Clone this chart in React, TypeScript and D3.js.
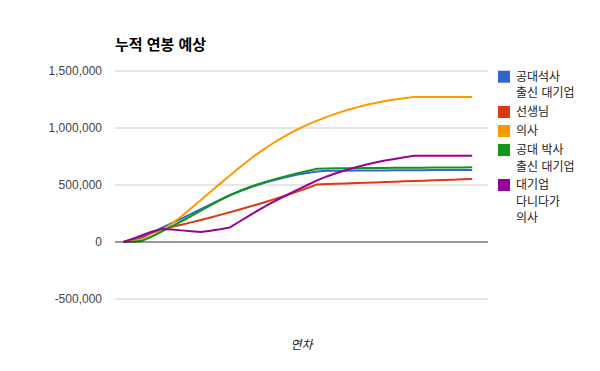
import React from "react";
import * as d3 from "d3";

const years: number[] = d3.range(0, 37);

const seriesNames: string[][] = [
  ["공대석사", "출신 대기업"],
  ["선생님"],
  ["의사"],
  ["공대 박사", "출신 대기업"],
  ["대기업", "다니다가", "의사"],
];

const colors: string[] = ["#3366cc", "#dc3912", "#ff9900", "#109618", "#990099"];

const masterEng: number[] = [
  0, 15, 42, 82, 125, 165, 205, 246, 288, 330, 372, 410, 445, 476, 504, 530, 553, 573, 591,
  606, 618, 625, 626, 626, 627, 627, 628, 628, 629, 629, 630, 630, 631, 631, 632, 632, 632,
];

const teacher: number[] = [
  0, 25, 55, 85, 112, 133, 152, 172, 193, 215, 238, 261, 285, 309, 334, 360, 387, 415, 444,
  474, 505, 508, 511, 514, 517, 520, 523, 526, 529, 532, 535, 538, 541, 544, 547, 550, 553,
];

const doctor: number[] = [
  0, 6, 24, 56, 102, 160, 226, 296, 368, 440, 512, 584, 654, 721, 784, 842, 895, 944, 989,
  1029, 1065, 1098, 1128, 1155, 1179, 1201, 1220, 1236, 1250, 1261, 1273, 1273, 1273, 1273,
  1273, 1273, 1273,
];

const phdEng: number[] = [
  0, 3, 12, 50, 93, 137, 182, 228, 275, 322, 368, 410, 447, 480, 510, 536, 560, 582, 603,
  623, 643, 645, 646, 647, 648, 649, 650, 650, 651, 651, 652, 652, 653, 653, 654, 654, 655,
];

const corpToDoctor: number[] = [
  0, 30, 62, 92, 115, 110, 102, 95, 87, 98, 112, 128, 180, 232, 282, 330, 375, 418, 460,
  500, 540, 575, 605, 632, 656, 678, 697, 714, 729, 743, 757, 757, 757, 757, 757, 757, 757,
];

const yTicks: number[] = [-500000, 0, 500000, 1000000, 1500000];
const title = "누적 연봉 예상";
const xTitle = "연차";

const allSeries: number[][] = [masterEng, teacher, doctor, phdEng, corpToDoctor];

export default function App() {
  const width = 600;
  const height = 371;
  const x = d3.scaleLinear().domain([0, 36]).range([123.3, 472.2]);
  const y = d3.scaleLinear().domain([-500000, 1500000]).range([299, 71]);
  const line = d3
    .line<number>()
    .x((_, i) => x(years[i]))
    .y((d) => y(d * 1000));
  const locale = d3.formatLocale({
    decimal: ".",
    thousands: ",",
    grouping: [3],
    currency: ["", ""],
    minus: "-",
  });
  const fmt = locale.format(",");
  const font = "Arial, 'Liberation Sans', 'Noto Sans CJK KR', sans-serif";
  const legendY = [76.7, 112, 131, 150, 185];

  return (
    <svg
      width={width}
      height={height}
      style={{ position: "absolute", left: 0, top: 0 }}
      fontFamily={font}
    >
      <rect width={width} height={height} fill="#fff" />
      <text x={115} y={49.5} fontSize={15} fontWeight="bold" fill="#000">
        {title}
      </text>
      {yTicks.map((t) => (
        <g key={t}>
          {t !== 0 && (
            <line x1={115} x2={488} y1={y(t)} y2={y(t)} stroke="#cccccc" strokeWidth={1} />
          )}
          <text
            x={102}
            y={y(t)}
            dy="0.35em"
            textAnchor="end"
            fontSize={12}
            fill="#444"
          >
            {fmt(t)}
          </text>
        </g>
      ))}
      {allSeries.map((s, k) => (
        <path
          key={k}
          d={line(s) || ""}
          fill="none"
          stroke={colors[k]}
          strokeWidth={2}
          strokeLinejoin="round"
        />
      ))}
      <line x1={115} x2={488} y1={y(0)} y2={y(0)} stroke="#333333" strokeWidth={1} />
      <text x={301.5} y={349} textAnchor="middle" fontSize={12} fontStyle="italic" fill="#222">
        {xTitle}
      </text>
      {seriesNames.map((names, k) => (
        <g key={k}>
          <rect x={498} y={legendY[k] - 6} width={12} height={12} fill={colors[k]} />
          {names.map((n, j) => (
            <text
              key={j}
              x={516}
              y={legendY[k] + j * 16.5}
              dy="0.35em"
              fontSize={12}
              fill="#222"
            >
              {n}
            </text>
          ))}
        </g>
      ))}
    </svg>
  );
}
